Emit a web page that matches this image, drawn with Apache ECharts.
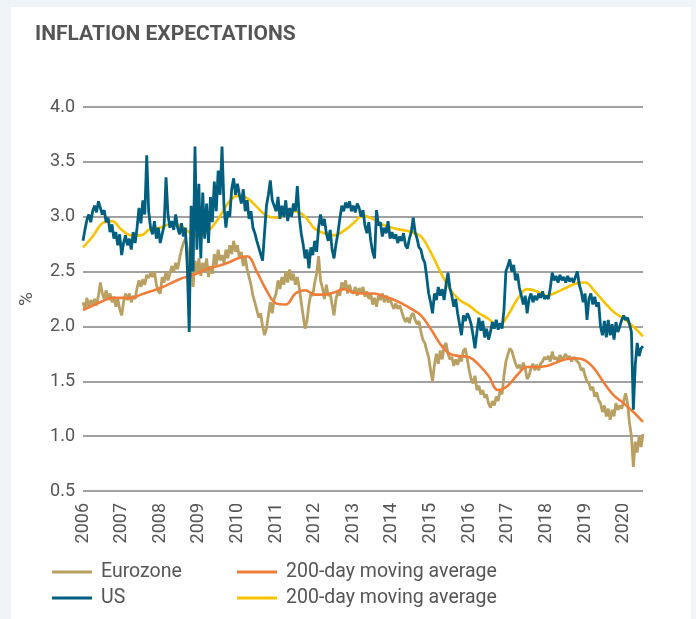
<!DOCTYPE html>
<html>
<head>
<meta charset="utf-8">
<script src="https://cdn.jsdelivr.net/npm/echarts@6/dist/echarts.min.js"></script>
<style>
  html, body { margin: 0; padding: 0; background: #eef4f8; }
  #panel { position: absolute; left: 11px; top: 7px; width: 680px; height: 612px; background: #fff; }
  #chart { position: absolute; left: 0; top: 0; width: 696px; height: 619px; }
</style>
</head>
<body>
<div id="panel"></div>
<div id="chart"></div>
<script>
// noisy series: one value every 0.05 year, starting Jan 2006
var START = 2006, STEP = 0.05;
var usValues = [
  2.78,2.88,2.97,3.02,2.95,3.05,3.1,3.04,3.14,3.08,3.02,3.06,2.95,2.99,2.86,2.93,2.8,2.86,2.74,2.84,
  2.65,2.76,2.83,2.74,2.8,2.7,2.86,2.76,2.9,3.08,2.94,3.15,3.02,3.56,3.05,2.9,2.84,2.96,2.8,2.9,
  2.76,2.84,2.92,3.36,3.02,2.9,2.96,2.88,3.02,2.9,2.84,2.94,2.82,2.9,2.55,1.95,3.1,2.5,3.64,2.7,
  3.3,2.62,3.22,2.8,3.12,2.76,3.18,2.95,3.32,3.05,3.42,3.2,3.64,3.1,2.9,3.05,3.0,3.25,3.35,3.2,
  3.3,3.2,3.12,3.25,3.05,3.15,2.98,3.05,2.9,2.85,2.78,2.72,2.66,2.6,2.85,3.1,3.2,3.33,3.15,3.1,
  3.05,3.18,2.98,3.1,3.0,3.15,2.96,3.08,3.0,3.12,3.05,3.28,3.0,2.85,2.75,2.62,2.7,2.53,2.72,2.65,
  2.78,2.68,2.9,3.02,2.92,2.98,2.85,2.78,2.88,2.7,2.62,2.75,2.85,2.98,3.1,3.05,3.13,3.08,3.14,3.05,
  3.1,3.04,3.12,3.08,3.0,3.06,2.92,2.85,2.95,2.78,2.68,2.62,3.06,2.92,2.95,2.82,2.9,2.85,2.96,2.8,
  2.86,2.8,2.84,2.76,2.82,2.78,2.85,2.74,2.71,2.8,2.86,2.99,2.86,2.8,2.72,2.7,2.62,2.58,2.45,2.3,
  2.22,2.12,2.3,2.24,2.36,2.28,2.34,2.24,2.38,2.49,2.35,2.28,2.18,2.25,2.12,2.02,1.92,2.1,2.05,2.12,
  2.08,2.02,1.92,1.8,1.95,2.08,1.96,2.05,1.9,1.98,1.88,1.95,2.04,1.98,2.06,1.97,2.03,1.98,2.15,2.5,
  2.55,2.61,2.5,2.56,2.42,2.48,2.35,2.28,2.2,2.28,2.12,2.25,2.3,2.22,2.28,2.24,2.3,2.26,2.32,2.25,
  2.28,2.25,2.35,2.49,2.42,2.46,2.4,2.47,2.42,2.45,2.4,2.46,2.41,2.44,2.4,2.45,2.5,2.38,2.32,2.22,
  2.3,2.06,2.25,2.3,2.2,2.27,2.18,2.22,2.0,1.92,2.05,1.9,2.06,1.92,2.02,1.88,2.04,1.95,2.0,2.06,
  2.1,2.06,2.08,2.02,1.95,1.24,1.65,1.85,1.73,1.8,1.82
];
var ezValues = [
  2.22,2.16,2.26,2.18,2.24,2.2,2.25,2.19,2.28,2.4,2.3,2.25,2.33,2.24,2.3,2.22,2.27,2.18,2.25,2.16,
  2.1,2.22,2.3,2.24,2.3,2.22,2.28,2.25,2.35,2.42,2.36,2.43,2.38,2.47,2.44,2.49,2.45,2.5,2.38,2.32,
  2.3,2.45,2.4,2.5,2.42,2.48,2.55,2.5,2.58,2.52,2.62,2.7,2.76,2.8,2.72,2.45,2.7,2.36,2.6,2.48,
  2.62,2.46,2.58,2.5,2.62,2.45,2.55,2.48,2.66,2.56,2.7,2.6,2.65,2.58,2.7,2.62,2.74,2.66,2.78,2.68,
  2.74,2.62,2.68,2.55,2.64,2.52,2.45,2.38,2.28,2.22,2.15,2.08,2.12,2.0,1.92,1.98,2.1,2.22,2.12,2.25,
  2.3,2.42,2.34,2.45,2.38,2.5,2.4,2.52,2.42,2.48,2.38,2.45,2.35,2.22,2.1,1.98,2.05,2.2,2.3,2.28,
  2.4,2.48,2.64,2.42,2.35,2.25,2.38,2.28,2.3,2.2,2.1,2.25,2.32,2.28,2.4,2.35,2.42,2.3,2.38,2.32,
  2.3,2.36,2.28,2.35,2.3,2.36,2.27,2.32,2.25,2.3,2.2,2.26,2.18,2.28,2.24,2.3,2.22,2.28,2.22,2.25,
  2.2,2.16,2.21,2.16,2.19,2.14,2.08,2.04,2.08,2.03,2.1,2.12,2.06,2.02,2.05,1.95,1.88,1.85,1.78,1.72,
  1.6,1.5,1.65,1.75,1.66,1.78,1.7,1.82,1.85,1.75,1.7,1.72,1.64,1.7,1.65,1.72,1.68,1.78,1.8,1.7,
  1.6,1.52,1.48,1.55,1.42,1.46,1.38,1.42,1.35,1.38,1.3,1.26,1.32,1.28,1.36,1.32,1.42,1.38,1.55,1.68,
  1.74,1.8,1.78,1.72,1.66,1.62,1.65,1.6,1.67,1.62,1.52,1.55,1.62,1.66,1.6,1.65,1.6,1.66,1.68,1.72,
  1.7,1.73,1.68,1.77,1.7,1.72,1.68,1.74,1.7,1.72,1.75,1.7,1.73,1.68,1.72,1.7,1.68,1.66,1.6,1.62,
  1.55,1.5,1.48,1.42,1.45,1.36,1.4,1.33,1.3,1.22,1.28,1.18,1.25,1.15,1.24,1.18,1.3,1.24,1.28,1.25,
  1.32,1.39,1.3,1.12,1.0,0.72,0.95,0.85,1.0,0.9,1.02
];
// 200-day moving averages: one value every quarter
var MA_START = 2006, MA_STEP = 0.25;
var usMA = [
  2.72,2.82,2.94,2.96, 2.88,2.83,2.83,2.89, 2.90,2.93,2.92,2.86, 2.82,2.87,2.98,3.12,
  3.19,3.17,3.09,3.01, 2.99,3.02,3.05,3.00, 2.89,2.85,2.83,2.87, 2.94,3.01,2.98,2.93,
  2.90,2.88,2.86,2.82, 2.68,2.50,2.34,2.24, 2.19,2.12,2.07,2.00, 2.10,2.25,2.34,2.32,
  2.28,2.31,2.35,2.39, 2.40,2.32,2.22,2.13, 2.07,2.00,1.91
];
var ezMA = [
  2.15,2.19,2.23,2.26, 2.26,2.26,2.29,2.32, 2.35,2.39,2.43,2.46, 2.49,2.53,2.55,2.58,
  2.62,2.64,2.50,2.33, 2.21,2.20,2.30,2.33, 2.29,2.29,2.31,2.34, 2.31,2.30,2.30,2.28,
  2.25,2.21,2.16,2.10, 1.98,1.84,1.75,1.73, 1.72,1.65,1.55,1.42, 1.46,1.56,1.63,1.63,
  1.64,1.67,1.70,1.71, 1.69,1.61,1.48,1.37, 1.30,1.22,1.13
];
var maLabel = '200-day moving average';

function toPoints(values, start, step) {
  return values.map(function (v, i) { return [+(start + i * step).toFixed(3), v]; });
}

var chart = echarts.init(document.getElementById('chart'));
var font = 'Roboto';
var textColor = '#555';

var legendBase = {
  orient: 'vertical',
  top: 557,
  itemGap: 6,
  itemWidth: 40,
  itemHeight: 3,
  icon: 'rect',
  textStyle: { fontFamily: font, fontSize: 19.5, color: textColor, padding: [0, 0, 0, 4] }
};

chart.setOption({
  animation: false,
  title: {
    text: 'INFLATION EXPECTATIONS',
    left: 30,
    top: 19,
    textStyle: { fontFamily: font, fontWeight: 'bold', fontSize: 21, color: textColor }
  },
  legend: [
    Object.assign({}, legendBase, { left: 47, data: ['Eurozone', 'US'] }),
    Object.assign({}, legendBase, {
      left: 232,
      data: ['EZ MA', 'US MA'],
      formatter: function () { return maLabel; }
    })
  ],
  grid: { left: 83, right: 53, top: 107, bottom: 128 },
  xAxis: {
    type: 'value',
    min: 2006,
    max: 2020.5,
    interval: 1,
    axisLine: { show: false },
    axisTick: { show: false },
    splitLine: { show: false },
    axisLabel: {
      rotate: 90,
      margin: 12,
      showMaxLabel: false,
      fontFamily: font,
      fontSize: 18,
      color: textColor,
      formatter: function (v) { return v % 1 === 0 ? String(v) : ''; }
    }
  },
  yAxis: {
    type: 'value',
    min: 0.5,
    max: 4,
    interval: 0.5,
    name: '%',
    nameLocation: 'middle',
    nameGap: 46,
    nameTextStyle: { fontFamily: font, fontSize: 19, color: textColor },
    axisLine: { show: false },
    axisTick: { show: false },
    axisLabel: {
      margin: 8,
      fontFamily: font,
      fontSize: 18,
      color: textColor,
      formatter: function (v) { return v.toFixed(1); }
    },
    splitLine: { lineStyle: { color: '#828282', width: 1.5 } }
  },
  series: [
    {
      name: 'Eurozone', type: 'line', symbol: 'none',
      data: toPoints(ezValues, START, STEP),
      lineStyle: { color: '#b7a062', width: 2.8 }, itemStyle: { color: '#b7a062' }
    },
    {
      name: 'EZ MA', type: 'line', symbol: 'none', smooth: 0.4,
      data: toPoints(ezMA, MA_START, MA_STEP),
      lineStyle: { color: '#ef7d3a', width: 2.6 }, itemStyle: { color: '#ef7d3a' }
    },
    {
      name: 'US MA', type: 'line', symbol: 'none', smooth: 0.4,
      data: toPoints(usMA, MA_START, MA_STEP),
      lineStyle: { color: '#f7c300', width: 2.6 }, itemStyle: { color: '#f7c300' }
    },
    {
      name: 'US', type: 'line', symbol: 'none',
      data: toPoints(usValues, START, STEP),
      lineStyle: { color: '#005e7e', width: 2.8 }, itemStyle: { color: '#005e7e' }
    }
  ]
});

window.onresize = function () {
  chart.resize();
};
</script>
</body>
</html>
